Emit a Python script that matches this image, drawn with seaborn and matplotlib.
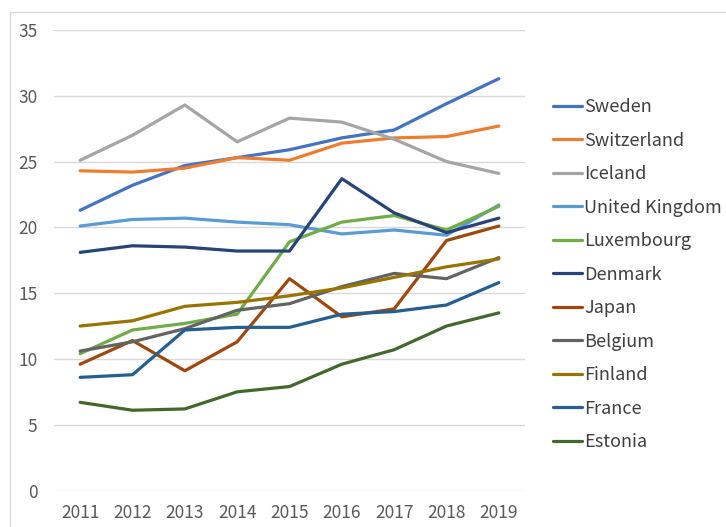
import matplotlib
matplotlib.use("Agg")
import matplotlib.pyplot as plt
import seaborn as sns
import pandas as pd
from matplotlib.patches import Rectangle

years = [2011, 2012, 2013, 2014, 2015, 2016, 2017, 2018, 2019]
countries = ["Sweden", "Switzerland", "Iceland", "United Kingdom", "Luxembourg",
             "Denmark", "Japan", "Belgium", "Finland", "France", "Estonia"]

sweden = [21.3, 23.2, 24.7, 25.3, 25.9, 26.8, 27.4, 29.4, 31.3]
switzerland = [24.3, 24.2, 24.5, 25.3, 25.1, 26.4, 26.8, 26.9, 27.7]
iceland = [25.1, 27.0, 29.3, 26.5, 28.3, 28.0, 26.7, 25.0, 24.1]
united_kingdom = [20.1, 20.6, 20.7, 20.4, 20.2, 19.5, 19.8, 19.4, 21.7]
luxembourg = [10.4, 12.2, 12.7, 13.4, 18.9, 20.4, 20.9, 19.8, 21.6]
denmark = [18.1, 18.6, 18.5, 18.2, 18.2, 23.7, 21.1, 19.6, 20.7]
japan = [9.6, 11.4, 9.1, 11.3, 16.1, 13.2, 13.8, 19.0, 20.1]
belgium = [10.6, 11.3, 12.3, 13.7, 14.2, 15.5, 16.5, 16.1, 17.7]
finland = [12.5, 12.9, 14.0, 14.3, 14.8, 15.4, 16.2, 17.0, 17.6]
france = [8.6, 8.8, 12.2, 12.4, 12.4, 13.4, 13.6, 14.1, 15.8]
estonia = [6.7, 6.1, 6.2, 7.5, 7.9, 9.6, 10.7, 12.5, 13.5]

series = [sweden, switzerland, iceland, united_kingdom, luxembourg, denmark,
          japan, belgium, finland, france, estonia]

colors = ["#4472C4", "#ED7D31", "#A5A5A5", "#5B9BD5", "#70AD47", "#264478",
          "#9E480E", "#636363", "#997300", "#255E91", "#43682B"]

rows = []
for c, vals in zip(countries, series):
    for y, v in zip(years, vals):
        rows.append({"year": y, "country": c, "value": v})
df = pd.DataFrame(rows)

sns.set_style("white")
plt.rcParams["font.family"] = ["Noto Sans CJK JP", "DejaVu Sans"]

W, H = 726, 527
fig = plt.figure(figsize=(W / 100, H / 100), dpi=100)
ax = fig.add_axes([54 / W, 1 - 490.5 / H, (525 - 54) / W, (490.5 - 30) / H])

# chart frame
fig.patches.append(Rectangle((10 / W, -0.1), 1.2, 1.1 - 12 / H, transform=fig.transFigure,
                             fill=False, edgecolor="#D9D9D9", linewidth=1.0))

sns.lineplot(data=df, x="year", y="value", hue="country", hue_order=countries,
             palette=dict(zip(countries, colors)), linewidth=2.3, ax=ax,
             legend=True)

ax.set_xlim(2010.5, 2019.5)
ax.set_ylim(0, 35)
ax.set_yticks(range(0, 36, 5))
ax.set_xticks(years)
ax.set_xticklabels([str(y) for y in years])
ax.grid(axis="y", color="#D9D9D9", linewidth=1.0)
ax.grid(axis="x", visible=False)
ax.set_axisbelow(True)
for s in ax.spines.values():
    s.set_visible(False)
ax.tick_params(axis="both", length=0, labelsize=12.5, colors="#595959")
ax.tick_params(axis="y", pad=12)
ax.tick_params(axis="x", pad=10)
ax.set_xlabel("")
ax.set_ylabel("")

handles, labels = ax.get_legend_handles_labels()
leg = ax.legend(handles, labels, loc="upper left", bbox_to_anchor=(553 / W, 1 - 98 / H),
                bbox_transform=fig.transFigure, frameon=False, fontsize=13,
                handlelength=1.6, handletextpad=0.12, labelspacing=0.86,
                borderaxespad=0, borderpad=0)
for t in leg.get_texts():
    t.set_color("#404040")

fig.savefig("out.png", dpi=100)
